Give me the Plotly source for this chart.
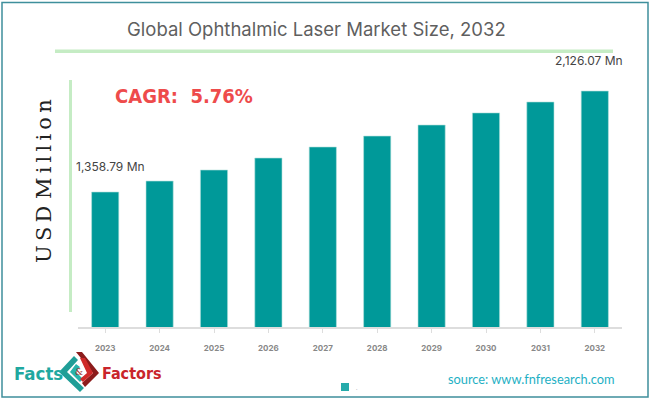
import plotly.graph_objects as go

years = ["2023","2024","2025","2026","2027","2028","2029","2030","2031","2032"]
values = [1358.79,1442,1526,1617,1701,1784,1868,1960,2043,2126.07]
W, H = 650, 400
def px(x): return x / W
def py(y): return 1 - y / H

fig = go.Figure(go.Bar(x=years, y=values, width=0.5,
    marker=dict(color="#009999", line=dict(color="#b5e0dc", width=0.6)),
    showlegend=False, hoverinfo="skip"))

def rect(x0, y0, x1, y1, fill=None, line=None, lw=0):
    return dict(type="rect", xref="paper", yref="paper", x0=px(x0), x1=px(x1), y0=py(y0), y1=py(y1),
                fillcolor=fill or "rgba(0,0,0,0)", line=dict(color=line or "rgba(0,0,0,0)", width=lw), layer="above")
def poly(points, fill):
    d = "M " + " L ".join(f"{px(a):.5f},{py(b):.5f}" for a, b in points) + " Z"
    return dict(type="path", xref="paper", yref="paper", path=d, fillcolor=fill, line=dict(width=0), layer="above")

shapes = [
    rect(2, 2.5, 648, 397, line="#3f8f9c", lw=1.5),
    rect(55, 49.5, 613, 53, fill="#c5ecc4"),
    rect(69, 80, 72, 312, fill="#c5ecc4"),
    rect(341, 383, 349, 391, fill="#26abab"),
    # logo
    poly([(74,356),(59,372),(80,392),(84,388),(67,372),(78,360)], "#1f9e97"),
    poly([(76,364),(70,372),(80,382),(83,379),(76,372),(80,367)], "#27b3ab"),
    poly([(76,352),(82,352),(99,373),(85,387),(82,383),(93,373)], "#8c1c1c"),
    poly([(80,358),(85,358),(93,373),(83,382),(80,379),(87,373)], "#cf2a2a"),
]

def note(text, x, y, size, color, family, anchor="center", angle=0, **kw):
    return dict(text=text, xref="paper", yref="paper", x=px(x), y=py(y), showarrow=False,
                xanchor=anchor, yanchor="middle", textangle=angle,
                font=dict(size=size, color=color, family=family), **kw)

thin = "\u2009"
annotations = [
    note("Global Ophthalmic Laser Market Size, 2032", 316, 29, 18.5, "#5f5f5f", "Inter"),
    note("<b>CAGR:  5.76%</b>", 184, 96, 20, "#ee4b4b", "DejaVu Sans Condensed"),
    note(thin.join("USD") + " " + thin.join("Million"), 44, 181, 21, "#222222", "DejaVu Serif", angle=-90),
    note("1,358.79 Mn", 110, 166, 12, "#444444", "Inter"),
    note("2,126.07 Mn", 589, 61, 12, "#444444", "Inter"),
    note("<b>Facts</b>", 38, 373, 18.5, "#1fa8a0", "DejaVu Sans Condensed"),
    note("<b>Factors</b>", 132, 373, 16, "#c9252b", "DejaVu Sans Condensed"),
    note("&", 79, 372, 9, "#a03030", "DejaVu Serif"),
    note("source: www.fnfresearch.com", 531, 379, 12.8, "#1eb0c4", "Lato"),
    note(".", 357, 387, 6, "#999999", "Lato"),
]

fig.update_layout(
    width=W, height=H, margin=dict(l=0, r=0, t=0, b=0), autosize=False,
    paper_bgcolor="white", plot_bgcolor="white", bargap=0.5,
    shapes=shapes, annotations=annotations,
    xaxis=dict(domain=[px(78), px(622)], anchor="y", type="category", showgrid=False,
               showline=True, linecolor="#dddddd", linewidth=1.5, ticks="outside", ticklen=4,
               tickcolor="#dddddd", tickfont=dict(size=8, color="#888888", family="Inter"),
               ticklabelstandoff=9, fixedrange=True, tickprefix="<b>", ticksuffix="</b>"),
    yaxis=dict(domain=[py(327), py(80)], range=[333, 2210], visible=False, fixedrange=True),
)
fig.write_html("out.html", config=dict(displayModeBar=False),
               post_script="document.body.style.margin='0';")
